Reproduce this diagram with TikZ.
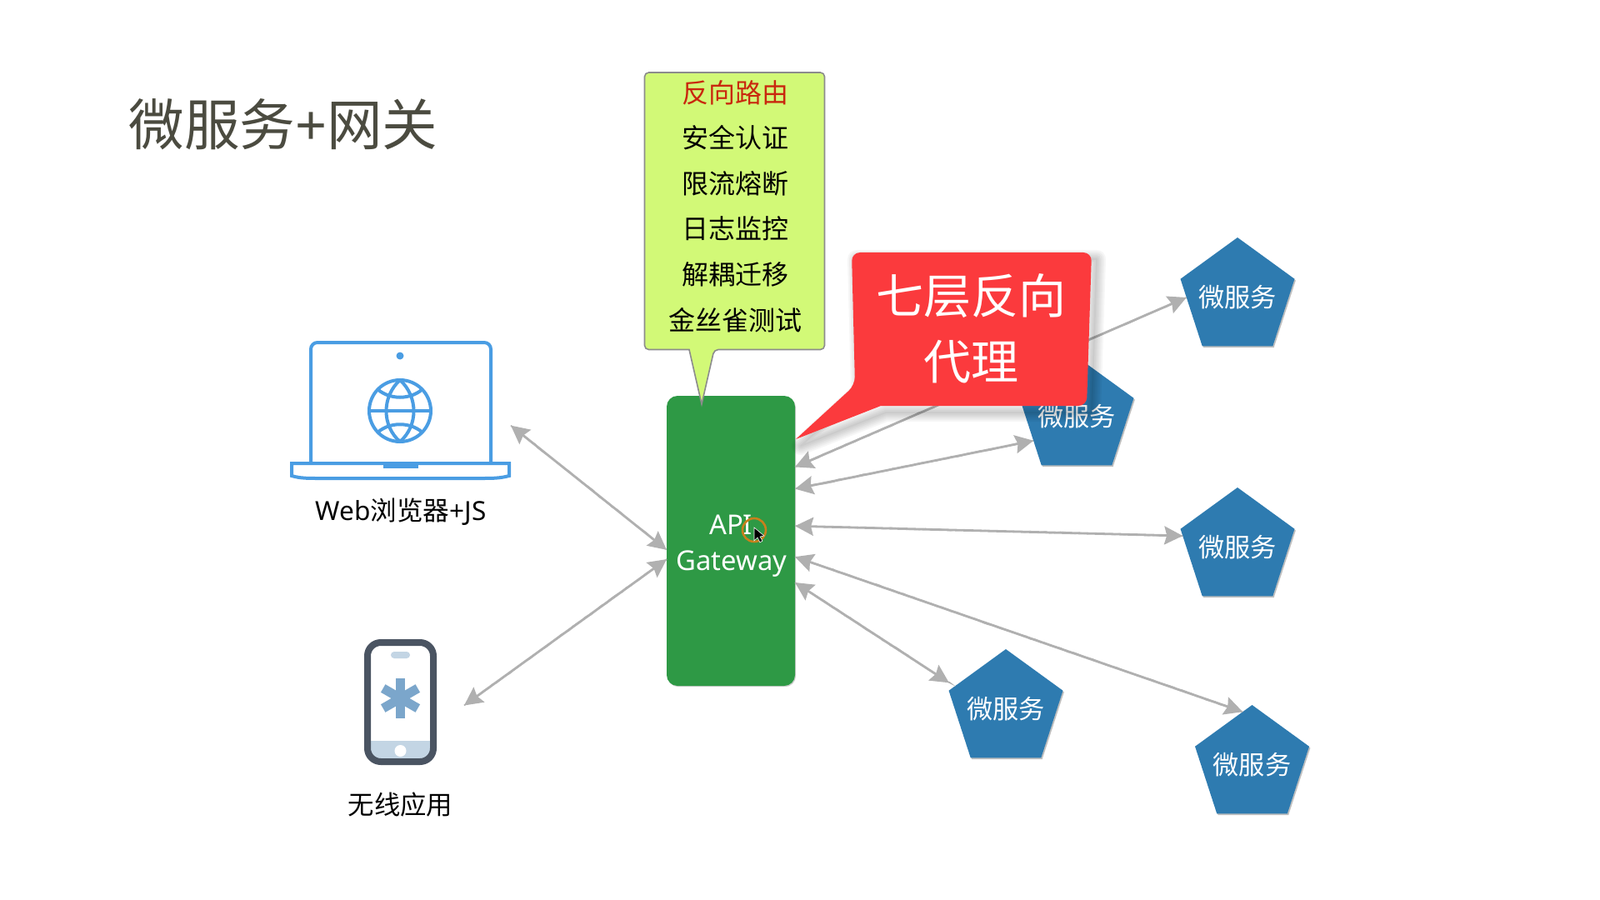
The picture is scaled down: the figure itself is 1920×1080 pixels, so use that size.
\documentclass[tikz,border=0pt]{standalone}
\usepackage{fontspec}
\setmainfont{Noto Sans}
\newfontfamily\cjk{Noto Sans CJK SC}
\usetikzlibrary{arrows.meta,shapes.geometric,shadows,decorations.pathmorphing}
\definecolor{ttl}{HTML}{4B4B40}
\definecolor{gwgreen}{HTML}{2E9945}
\definecolor{svcblue}{HTML}{2E7BB0}
\definecolor{lemon}{HTML}{D2F977}
\definecolor{lemonedge}{HTML}{8C8C8C}
\definecolor{callred}{HTML}{FB3A3D}
\definecolor{routered}{HTML}{C9280E}
\definecolor{lapblue}{HTML}{4A9DE3}
\definecolor{phonedark}{HTML}{4A5462}
\definecolor{phonepale}{HTML}{C3D5E4}
\definecolor{phonemid}{HTML}{7BA6CB}
\definecolor{linkgray}{HTML}{B0B0B0}
\tikzset{
  link/.style={draw=linkgray,line width=1.4pt,{Stealth[length=11pt,width=11pt,inset=1.5pt]}-{Stealth[length=11pt,width=11pt,inset=1.5pt]},
    postaction={draw=linkgray,line width=.8pt,arrows=-,decorate,decoration={random steps,segment length=3pt,amplitude=.4pt}}},
  svc/.style={regular polygon,regular polygon sides=5,minimum size=72pt,inner sep=0pt,outer sep=0pt,fill=svcblue,
    drop shadow={shadow xshift=.7pt,shadow yshift=-.9pt,opacity=.25,fill=black}},
  svctext/.style={inner sep=0pt,text=white,font=\fontsize{15.6}{18}\cjk},
  liner/.style={inner sep=0pt,text=black,font=\fontsize{16}{18}\cjk},
  caption/.style={inner sep=0pt,text=black},
  ghost/.style={rectangle,inner sep=0pt,outer sep=0pt},
  lap/.style={draw=lapblue,line width=2pt},
  gwtext/.style={inner sep=0pt,text=white,font=\fontsize{16.4}{20}\selectfont}
}
\begin{document}
\begin{tikzpicture}[x=0.5pt,y=-0.5pt]
\useasboundingbox (0,0) rectangle (1920,1080);
\fill[white] (0,0) rectangle (1920,1080);

% title
\node[anchor=west,inner sep=0pt,text=ttl] (title) at (154,149) {\fontsize{33.3}{38}\selectfont{\cjk 微服务}+{\cjk 网关}};

% laptop
\node[ghost,minimum width=132.5pt,minimum height=84pt] (laptop) at (480.5,492) {};
\draw[lap,fill=white,rounded corners=4pt] (373,554) -- (373,411) -- (589,411) -- (589,554);
\draw[lap,fill=white] (350,556) -- (611,556) -- (611,571) .. controls (600,574) and (590,574) .. (580,574) -- (380,574) .. controls (370,574) and (360,574) .. (350,571) -- cycle;
\fill[lapblue] (460,554) rectangle (502,562);
\fill[lapblue] (480,427) circle[radius=4.5];
\begin{scope}
\draw[lap] (480,493) circle[radius=37];
\clip (480,493) circle[radius=37];
\draw[lap] (443,493) -- (517,493);
\draw[lap] (480,456) .. controls (458,476) and (458,511) .. (480,530);
\draw[lap] (480,456) .. controls (502,476) and (502,511) .. (480,530);
\draw[lap] (450,464) .. controls (465,481) and (495,481) .. (510,464);
\draw[lap] (450,522) .. controls (465,505) and (495,505) .. (510,522);
\end{scope}
\node[caption] (laplabel) at (481,614) {\fontsize{15.8}{18}\selectfont Web{\cjk 浏览器}+JS};

% phone
\node[ghost,minimum width=76.5pt,minimum height=75.5pt] (phone) at (480.5,842.5) {};
\fill[white,rounded corners=7pt] (441,771) rectangle (520,914);
\fill[phonepale,rounded corners=5pt] (441,889) rectangle (520,914);
\fill[phonepale] (441,889) rectangle (520,900);
\draw[phonedark,line width=4pt,rounded corners=8pt] (441,771) rectangle (520,914);
\fill[white] (480.5,901) circle[radius=7];
\fill[phonepale,rounded corners=2pt] (469,782) rectangle (492,790);
\foreach \a in {0,60,120}
  \fill[phonemid,rotate around={\a:(480.5,838)}] (475,814) rectangle (486,862);
\node[caption] (phonelabel) at (480.5,966) {\fontsize{15.7}{18}\cjk 无线应用};

% gateway
\node[rectangle,rounded corners=6.5pt,minimum width=77pt,minimum height=174pt,inner sep=0pt,outer sep=0pt,fill=gwgreen,
  drop shadow={shadow xshift=.5pt,shadow yshift=-.6pt,opacity=.2,fill=black}] (gw) at (877,649) {};
\node[gwtext] (gwa) at (877,630) {API};
\node[gwtext] (gwb) at (878,677) {Gateway};

% services
\node[svc,label={[svctext]center:微服务}] (s1) at (1485,357) {};
\node[svc,label={[svctext]center:微服务}] (s2) at (1292,500) {};
\node[svc,label={[svctext]center:微服务}] (s3) at (1485,657) {};
\node[svc,label={[svctext]center:微服务}] (s4) at (1207,851) {};
\node[svc,label={[svctext]center:微服务}] (s5) at (1502.5,918) {};

% connectors
\draw[link] (laptop.-8.6) -- (gw.188.9);
\draw[link] (phone.-3.4) -- (gw.196.6);
\draw[link] (gw.49.1) -- (s1.180);
\draw[link] (gw.39.7) -- (s2.209);
\draw[link] (gw.13.1) -- (s3.168.7);
\draw[link] (gw.-14.5) -- (s5.100);
\draw[link,shorten >=4pt] (gw.-33) -- (s4.156);

% yellow callout
\draw[draw=lemonedge,fill=lemon,line width=.8pt,rounded corners=2.5pt]
  (773.5,87) -- (989.5,87) -- (989.5,419.5) -- (857,419.5) [sharp corners] -- (842,485) -- (827,419.5) [rounded corners=2.5pt] -- (773.5,419.5) -- cycle;
\node[liner,text=routered] (y1) at (882,111) {反向路由};
\node[liner] (y2) at (882,165) {安全认证};
\node[liner] (y3) at (882,220) {限流熔断};
\node[liner] (y4) at (882,274) {日志监控};
\node[liner] (y5) at (882,329) {解耦迁移};
\node[liner] (y6) at (882,384) {金丝雀测试};

% red callout
\foreach \w in {22,18,14,10,6,2}
  \draw[black,opacity=.035,line width=\w*0.5pt,line join=round,shift={(6,8)}]
    (1026,462) -- (955,527) -- (1057,487) -- (1304,487) -- (1310,303) -- (1022,303) -- cycle;
\fill[callred,rounded corners=5pt]
  (1026,462) [sharp corners] -- (955,527) -- (1057,487) [rounded corners=5pt] -- (1304,487) -- (1310,303) -- (1022,303) -- cycle;
\node[inner sep=0pt,text=white,font=\fontsize{28.5}{32}\cjk] (r1) at (1165,355) {七层反向};
\node[inner sep=0pt,text=white,font=\fontsize{28.5}{32}\cjk] (r2) at (1165,434) {代理};

% pointer highlight
\draw[draw={rgb,255:red,200;green,128;blue,28},line width=1.3pt] (905,636) circle[radius=14];
\fill[black,draw=white,line width=.3pt] (905,633) -- (905,649) -- (909,645) -- (912,651) -- (915,649) -- (912,644) -- (917,643) -- cycle;
\end{tikzpicture}
\end{document}
